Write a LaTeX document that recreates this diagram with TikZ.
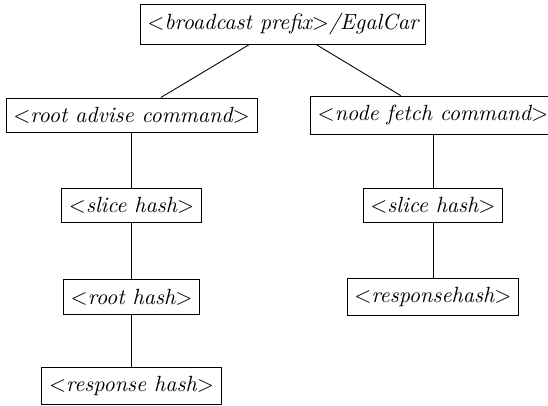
\documentclass[tikz,border=0pt]{standalone}
\begin{document}
\begin{tikzpicture}[x=1pt,y=1pt,
  box/.style={draw,font=\itshape,inner xsep=3.33pt,inner ysep=4.1pt}]
\useasboundingbox (0,0) rectangle (249.1,-184.5);
\node[box] (root) at (128.6,-11.1) {$<$broadcast prefix$>$/EgalCar};
\node[box] (l1) at (59.8,-52.3) {$<$root advise command$>$};
\node[box] (r1) at (196.8,-52.3) {$<$node fetch command$>$};
\node[box] (l2) at (59.8,-93.2) {$<$slice hash$>$};
\node[box] (l3) at (59.8,-135) {$<$root hash$>$};
\node[box] (l4) at (59.8,-175.5) {$<$response hash$>$};
\node[box] (r2) at (196.8,-93.2) {$<$slice hash$>$};
\node[box] (r3) at (196.8,-135) {$<$responsehash$>$};
\draw (root) -- (l1);
\draw (root) -- (r1);
\draw (l1) -- (l2);
\draw (l2) -- (l3);
\draw (l3) -- (l4);
\draw (r1) -- (r2);
\draw (r2) -- (r3);
\end{tikzpicture}
\end{document}
